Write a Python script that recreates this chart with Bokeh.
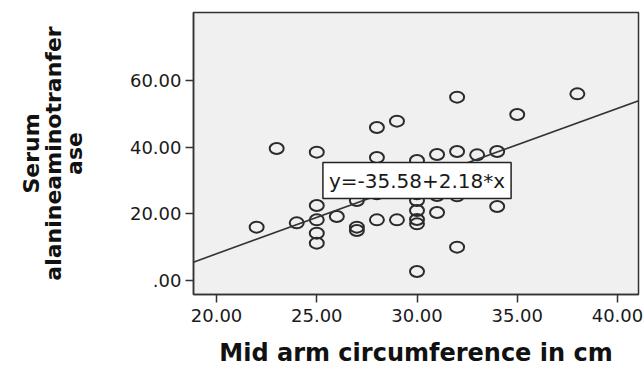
from bokeh.plotting import figure
from bokeh.models import Range1d, FixedTicker, Slope, Label, ColumnDataSource
from bokeh.embed import file_html
from bokeh.resources import INLINE

# Data
mid_arm_cm = [22, 23, 24, 25, 25, 25, 25, 25, 26, 27, 27, 27, 28, 28, 28, 28,
              29, 29, 30, 30, 30, 30, 30, 30, 30, 31, 31, 31, 32, 32, 32, 32,
              33, 34, 34, 35, 38]
serum_alt = [16.0, 39.6, 17.3, 38.5, 22.5, 18.2, 14.2, 11.2, 19.2, 24.0, 16.0, 15.0,
             45.9, 36.9, 26.0, 18.2, 47.8, 18.2, 36.0, 26.0, 24.0, 21.0, 18.3, 17.0,
             2.7, 37.8, 25.5, 20.4, 55.0, 38.7, 25.4, 10.0, 37.7, 38.7, 22.2, 49.8, 56.0]

fit_intercept = -35.58
fit_slope = 2.18
equation_text = "y=-35.58+2.18*x"

x_ticks = [20, 25, 30, 35, 40]
x_tick_labels = ["20.00", "25.00", "30.00", "35.00", "40.00"]
y_ticks = [0, 20, 40, 60]
y_tick_labels = [".00", "20.00", "40.00", "60.00"]

x_title = "Mid arm circumference in cm"
y_title = "Serum\nalanineaminotranfer\nase"

src = ColumnDataSource(data=dict(x=mid_arm_cm, y=serum_alt))

p = figure(width=644, height=372, output_backend="svg", toolbar_location=None,
           x_range=Range1d(18.85, 41.05), y_range=Range1d(-4.2, 80.4),
           min_border_left=193, min_border_right=6, min_border_top=12, min_border_bottom=78)

p.background_fill_color = "#f0f0f0"
p.border_fill_color = "white"
p.outline_line_color = "#333333"
p.outline_line_width = 1.5
p.xgrid.visible = False
p.ygrid.visible = False

p.ellipse(x="x", y="y", width=14, height=11, width_units="screen", height_units="screen",
          fill_color=None, line_color="#2b2b2b", line_width=2.0, source=src)

p.add_layout(Slope(gradient=fit_slope, y_intercept=fit_intercept,
                   line_color="#333333", line_width=1.6))

p.add_layout(Label(x=30, y=30, text=equation_text, text_align="center", text_baseline="middle",
                   text_font="DejaVu Sans", text_font_size="20px", text_color="#1a1a1a",
                   background_fill_color="white", border_line_color="#222222",
                   border_line_width=1.5, padding=6))

for ax, ticks, labels in ((p.xaxis[0], x_ticks, x_tick_labels), (p.yaxis[0], y_ticks, y_tick_labels)):
    ax.ticker = FixedTicker(ticks=ticks)
    ax.major_label_overrides = {t: l for t, l in zip(ticks, labels)}
    ax.minor_tick_line_color = None
    ax.major_tick_in = 0
    ax.major_tick_out = 8
    ax.major_tick_line_color = "#333333"
    ax.major_tick_line_width = 1.5
    ax.axis_line_color = "#333333"
    ax.axis_line_width = 1.5
    ax.major_label_text_font = "DejaVu Sans"
    ax.major_label_text_font_size = "18px"
    ax.major_label_text_color = "#1a1a1a"
    ax.axis_label_text_font = "DejaVu Sans"
    ax.axis_label_text_font_style = "bold"
    ax.axis_label_text_color = "#111111"

p.xaxis.axis_label = x_title
p.xaxis.axis_label_text_font_size = "24px"
p.xaxis.major_label_standoff = 6
p.xaxis.axis_label_standoff = 14

p.yaxis.axis_label = y_title
p.yaxis.axis_label_text_font_size = "22px"
p.yaxis.axis_label_text_line_height = 0.85
p.yaxis.major_label_standoff = 4
p.yaxis.axis_label_standoff = 40

open("out.html", "w").write(file_html(p, INLINE))
